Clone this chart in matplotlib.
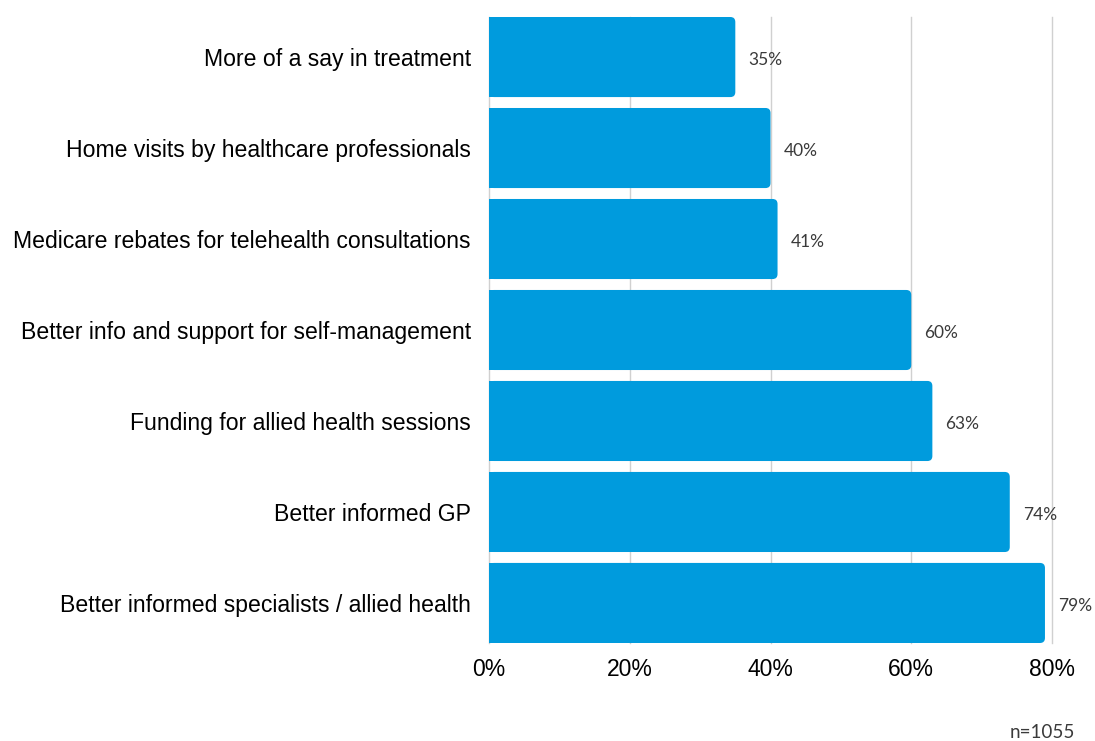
import numpy as np
import matplotlib.pyplot as plt
from matplotlib.patches import FancyBboxPatch

# survey responses, top to bottom
labels = ['More of a say in treatment',
          'Home visits by healthcare professionals',
          'Medicare rebates for telehealth consultations',
          'Better info and support for self-management',
          'Funding for allied health sessions',
          'Better informed GP',
          'Better informed specialists / allied health']
values = [35, 40, 41, 60, 63, 74, 79]
xticks = [0, 20, 40, 60, 80]
note = 'n=1055'

blue = '#009bdd'
bar_h = 0.88

fig = plt.figure(figsize=(10.95, 7.41), dpi=100)
ax = fig.add_axes([489/1095, 1-643/741, (1052-489)/1095, (643-17)/741])

ypos = np.arange(len(labels))
bars = ax.barh(ypos, values, height=bar_h, color=blue, zorder=2)

# swap each bar for one with rounded right-hand corners
px_x = 80/(1052-489)
px_y = (len(labels)-1+bar_h)/(643-17)
r = 5*px_x
for b in bars:
    x0, y0 = b.get_x(), b.get_y()
    w, h = b.get_width(), b.get_height()
    b.set_visible(False)
    ax.add_patch(FancyBboxPatch((x0, y0), w, h,
                                boxstyle='round,pad=0,rounding_size=%f' % r,
                                mutation_aspect=px_y/px_x,
                                fc=blue, ec='none', zorder=2))
    ax.add_patch(plt.Rectangle((x0, y0), w/2, h, fc=blue, ec='none', zorder=2))

for y, v in zip(ypos, values):
    ax.annotate('%d%%' % v, (v, y), xytext=(9.5, -2), textcoords='offset points',
                va='center', ha='left', fontsize=12.5, color='#3a3a3a',
                family='Lato')

ax.set_ylim(len(labels)-1+bar_h/2, -bar_h/2)
ax.set_xlim(0, 80)
ax.set_xticks(xticks)
ax.set_xticklabels(['%d%%' % t for t in xticks], fontsize=16.5,
                   family='Liberation Sans')
ax.set_yticks(ypos)
ax.set_yticklabels(labels, fontsize=16.6, family='Liberation Sans')
ax.tick_params(length=0)
ax.tick_params(axis='y', pad=13)
ax.tick_params(axis='x', pad=11)
ax.grid(axis='x', color='#d0d0d0', lw=1, zorder=0)
for gl in ax.get_xgridlines():
    gl.set_clip_on(False)
for s in ax.spines.values():
    s.set_visible(False)

fig.text(1075/1095, 1-732/741, note, ha='right', va='center', fontsize=13.5,
         color='#3a3a3a', family='Lato')

plt.savefig('out.png')
